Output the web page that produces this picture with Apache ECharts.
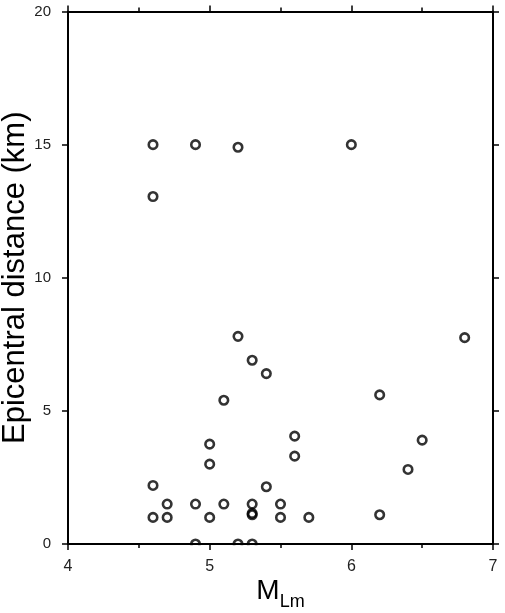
<!DOCTYPE html>
<html><head><meta charset="utf-8">
<script src="https://cdn.jsdelivr.net/npm/echarts@6/dist/echarts.min.js"></script>
<style>html,body{margin:0;padding:0;background:#fff}#c{width:505px;height:613px}</style>
</head><body><div id="c"></div>
<script>
// Local magnitude M_Lm of each event
const magnitude = [4.6, 4.9, 5.2, 6.0, 4.6,
  5.2, 6.8, 5.3, 5.4, 6.2, 5.1,
  5.6, 6.5, 5.0, 5.6, 5.0, 6.4,
  4.6, 5.4,
  4.7, 4.9, 5.1, 5.3, 5.5,
  5.3, 5.3, 6.2,
  4.6, 4.7, 5.0, 5.5, 5.7,
  4.9, 5.2, 5.3];
// Epicentral distance (km)
const distance = [15.0, 15.0, 14.9, 15.0, 13.05,
  7.8, 7.75, 6.9, 6.4, 5.6, 5.4,
  4.05, 3.9, 3.75, 3.3, 3.0, 2.8,
  2.2, 2.15,
  1.5, 1.5, 1.5, 1.5, 1.5,
  1.15, 1.1, 1.1,
  1.0, 1.0, 1.0, 1.0, 1.0,
  0, 0, 0];
const xRange = [4, 7];
const xStep = 1;
const yRange = [0, 20];
const yStep = 5;

const FONT = "'Liberation Sans', Arial, Helvetica, sans-serif";
const chart = echarts.init(document.getElementById('c'), null, {renderer: 'canvas'});
const lineStyle = {color: '#000', width: 2};
const baseX = {
  type: 'value', min: xRange[0], max: xRange[1], interval: xStep,
  axisLine: {show: true, onZero: false, lineStyle: lineStyle},
  axisTick: {show: true, inside: false, length: 6, lineStyle: {color: '#000', width: 1.5}},
  minorTick: {show: true, splitNumber: 2, length: 4, lineStyle: {color: '#000', width: 1.5}},
  splitLine: {show: false}
};
const baseY = {
  type: 'value', min: yRange[0], max: yRange[1], interval: yStep,
  axisLine: {show: true, onZero: false, lineStyle: lineStyle},
  axisTick: {show: true, inside: false, length: 6, lineStyle: {color: '#000', width: 1.5}},
  splitLine: {show: false}
};
const option = {
  backgroundColor: '#fff',
  animation: false,
  grid: {left: 68, right: 12, top: 11.5, bottom: 69, containLabel: false, outerBoundsMode: 'none'},
  xAxis: [
    Object.assign({}, baseX, {
      position: 'bottom',
      axisLabel: {show: true, margin: 15, fontSize: 16, color: '#222', fontFamily: FONT},
      name: '{m|M}{s|Lm}', nameLocation: 'middle', nameGap: 33, nameMoveOverlap: false,
      nameTextStyle: {
        fontFamily: FONT, color: '#000',
        rich: {
          m: {fontSize: 28, fontFamily: FONT, color: '#000', padding: [0, 0, 6, 0]},
          s: {fontSize: 18, fontFamily: FONT, color: '#000', verticalAlign: 'bottom'}
        }
      }
    }),
    Object.assign({}, baseX, {position: 'top', axisLabel: {show: false}})
  ],
  yAxis: [
    Object.assign({}, baseY, {
      position: 'left',
      axisLabel: {show: true, margin: 17, fontSize: 15, color: '#222', fontFamily: FONT},
      name: 'Epicentral distance (km)', nameLocation: 'middle', nameGap: 37, nameMoveOverlap: false,
      nameTextStyle: {fontSize: 31, fontFamily: FONT, color: '#000'}
    }),
    Object.assign({}, baseY, {position: 'right', axisLabel: {show: false}})
  ],
  series: [{
    type: 'scatter',
    xAxisIndex: 0, yAxisIndex: 0,
    symbol: 'circle', symbolSize: 8.5,
    clip: false,
    itemStyle: {color: 'rgba(0,0,0,0)', borderColor: '#000', borderWidth: 2.6},
    data: magnitude.map((m, i) => [m, distance[i]]),
    z: 3
  }]
};
chart.setOption(option);

// Hide the parts of symbols that fall outside the plotting area (below the x axis line)
const masks = [];
const bottom = chart.convertToPixel({yAxisIndex: 0}, yRange[0]);
magnitude.forEach((m, i) => {
  const p = chart.convertToPixel({xAxisIndex: 0, yAxisIndex: 0}, [m, distance[i]]);
  if (p[1] + 6 > bottom + 1) {
    masks.push({
      type: 'rect', z: 100,
      shape: {x: p[0] - 7, y: bottom + 1.2, width: 14, height: Math.min(8, p[1] + 7 - bottom)},
      style: {fill: '#fff'}
    });
  }
});
chart.setOption({graphic: masks});
</script>
</body></html>
